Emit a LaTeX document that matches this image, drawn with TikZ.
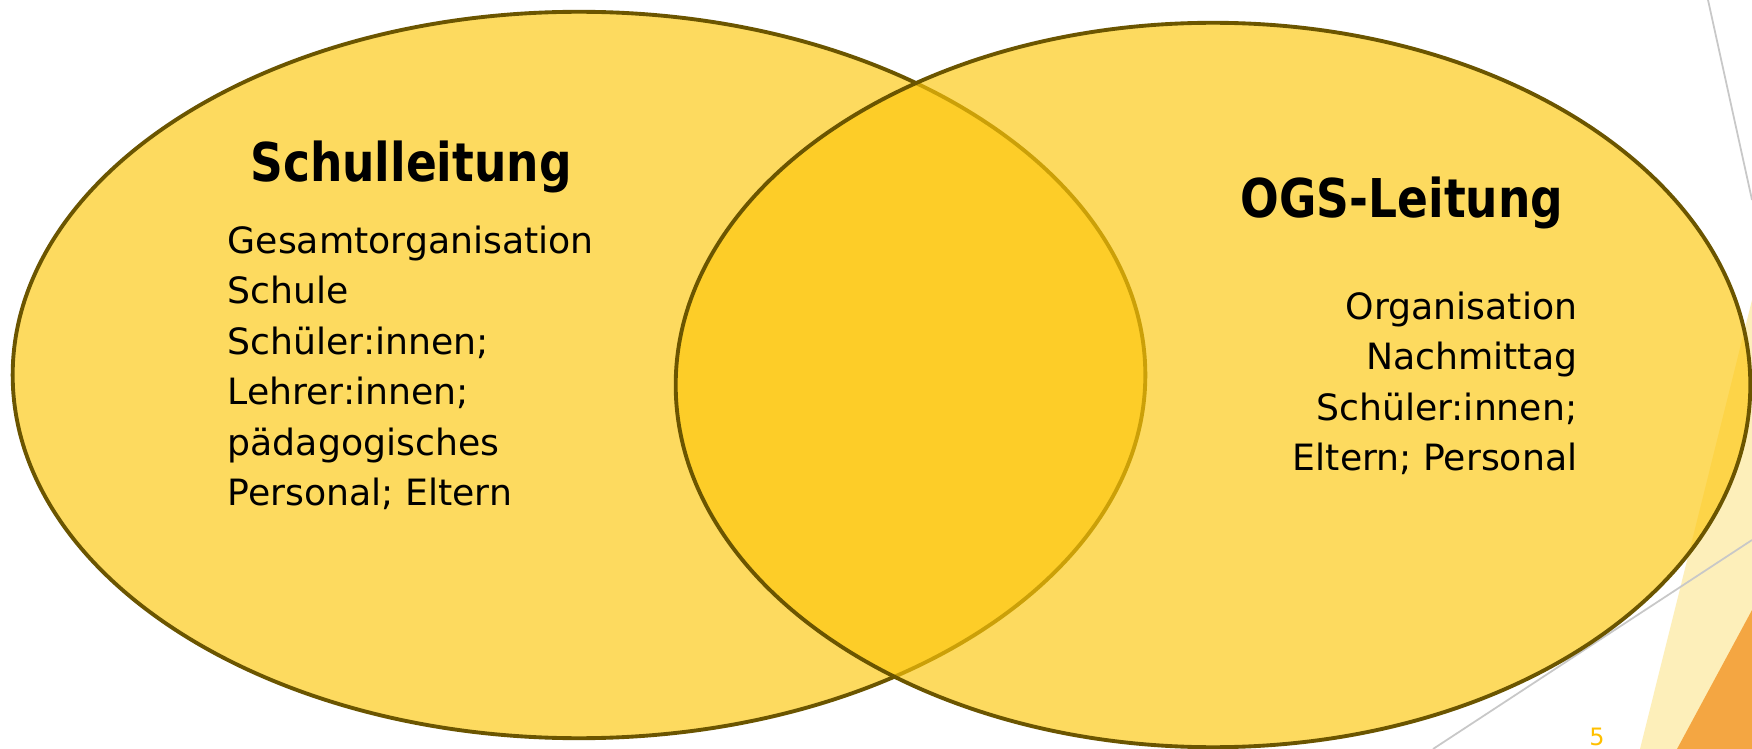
\documentclass[tikz,border=0pt]{standalone}
\usepackage{fontspec}
\setmainfont{DejaVu Sans}
\definecolor{vennfill}{RGB}{253,199,13}
\definecolor{vennline}{RGB}{107,85,0}
\definecolor{paleyel}{RGB}{252,226,130}
\definecolor{orangetri}{RGB}{244,166,66}
\definecolor{decoline}{RGB}{200,200,200}
\definecolor{pagenum}{RGB}{255,192,0}
\tikzset{
  venn/.style={fill=vennfill, fill opacity=0.66, draw=vennline, line width=1.1pt},
  heading/.style={font=\fontsize{15.2pt}{17pt}\selectfont\bfseries, inner sep=0pt, anchor=base},
  bodytext/.style={font=\fontsize{10.3pt}{14.36pt}\selectfont, inner sep=0pt},
  deco/.style={draw=decoline, line width=0.5pt}
}
\begin{document}
\begin{tikzpicture}[x=0.01cm,y=-0.01cm]
\useasboundingbox (0,0) rectangle (1752,749);
\fill[white] (0,0) rectangle (1752,749);
% decorations on the right
\fill[paleyel, opacity=0.55] (1640,749) -- (1752,300) -- (1752,749) -- cycle;
\fill[orangetri] (1677,749) -- (1752,610) -- (1752,749) -- cycle;
\draw[deco] (1708,0) -- (1752,200);
\draw[deco] (1433,749) -- (1752,540);
% ellipses
\path[venn] (579,375) ellipse [x radius=5.66cm, y radius=3.63cm];
\path[venn] (1213,385) ellipse [x radius=5.37cm, y radius=3.62cm];
% texts
\node[heading] (h1) at (411,182) {\scalebox{0.852}[1]{Schulleitung}};
\node[bodytext, anchor=north west, align=left] (t1) at (227,225)
  {Gesamtorganisation\\Schule\\Schüler:innen;\\Lehrer:innen;\\pädagogisches\\Personal; Eltern};
\node[heading] (h2) at (1402,218) {\scalebox{0.852}[1]{OGS-Leitung}};
\node[bodytext, anchor=north east, align=right] (t2) at (1578,291)
  {Organisation\\Nachmittag\\Schüler:innen;\\Eltern; Personal};
\node[font=\fontsize{6.8pt}{8pt}\selectfont, text=pagenum, inner sep=0pt] (pn) at (1597,737) {5};
\end{tikzpicture}
\end{document}
